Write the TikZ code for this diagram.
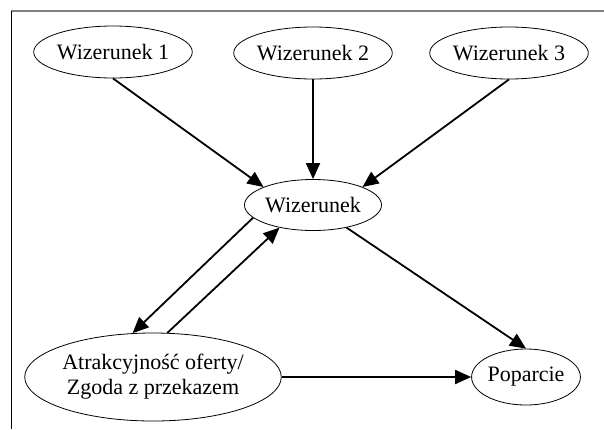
\documentclass[tikz,border=0pt]{standalone}
\usepackage{fontspec}
\setmainfont{Liberation Serif}
\usetikzlibrary{shapes.geometric, arrows.meta}

\begin{document}
\begin{tikzpicture}[x=1pt, y=-1pt,
        oval/.style={draw, ellipse, inner sep=0pt, line width=0.8pt, align=center,
            font=\fontsize{22}{25}\selectfont},
        link/.style={line width=1.8pt, -{Triangle[length=16pt, width=14pt]}}]
        \useasboundingbox (0,0) rectangle (604,429);

        % --- Frame ---
        \draw[gray, line width=1.2pt] (11,11) -- (604,11);
        \draw[black, line width=1pt] (11,11) -- (11,429);

        % --- Top row ---
        \node[oval, minimum width=134, minimum height=52] (w1) at (113,52) {Wizerunek 1};
        \node[oval, minimum width=136, minimum height=52] (w2) at (313,53) {Wizerunek 2};
        \node[oval, minimum width=137, minimum height=52] (w3) at (509,53) {Wizerunek 3};

        % --- Middle ---
        \node[oval, minimum width=137, minimum height=51] (w) at (313,205) {Wizerunek};

        % --- Bottom row ---
        \node[oval, minimum width=218, minimum height=88] (atr) at (153,377) {Atrakcyjność oferty/\\Zgoda z przekazem};
        \node[oval, minimum width=103, minimum height=56] (pop) at (526,377) {Poparcie};

        % --- Arrows ---
        \draw[link] (w1.south) -- (w.160);
        \draw[link] (w2.south) -- (w.north);
        \draw[link] (w3.south) -- (w.20);
        \draw[link] (w.192) -- (atr.115);
        \draw[link] (atr.72) -- (w.214);
        \draw[link] (w.-34) -- (pop.north);
        \draw[link] (atr.east) -- (pop.west);
    \end{tikzpicture}
\end{document}
